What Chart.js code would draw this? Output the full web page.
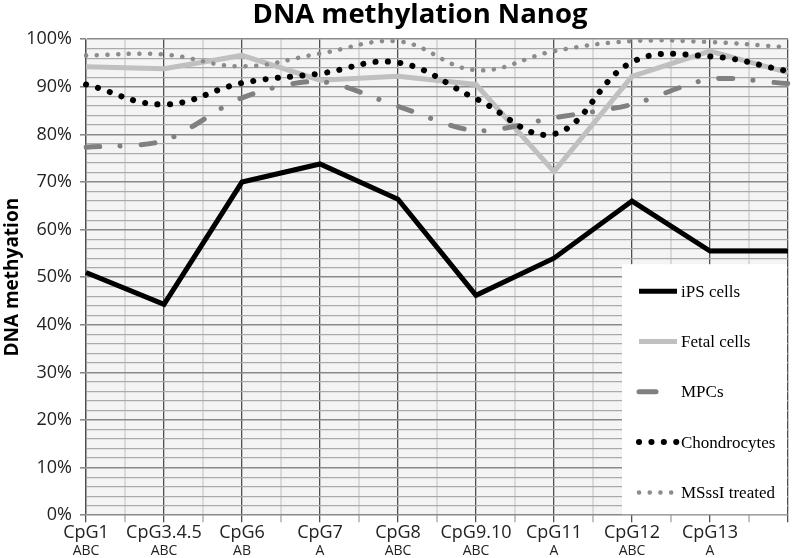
<!DOCTYPE html>
<html>
<head>
<meta charset="utf-8">
<script src="https://cdn.jsdelivr.net/npm/chart.js@4.4.1/dist/chart.umd.min.js"></script>
<style>
  html, body { margin: 0; padding: 0; background: #fff; }
  body { width: 792px; height: 558px; overflow: hidden; }
  #wrap { width: 840px; height: 558px; }
</style>
</head>
<body>
<div id="wrap"><canvas id="chart" width="840" height="558"></canvas></div>
<script>
// CpG sites along the x axis, with the sub label under each
const categories = ['CpG1', 'CpG3.4.5', 'CpG6', 'CpG7', 'CpG8', 'CpG9.10', 'CpG11', 'CpG12', 'CpG13', ''];
const subLabels = ['ABC', 'ABC', 'AB', 'A', 'ABC', 'ABC', 'A', 'ABC', 'A', ''];

// methylation in %
const ipsCells = [51, 44.3, 70, 73.8, 66.4, 46.2, 54, 66, 55.5, 55.5];
const fetalCells = [94.2, 93.8, 96.6, 91.4, 92.2, 90.5, 72.2, 92.2, 97.5, 93];
const mpcs = [77.3, 78.7, 87.7, 91.1, 85.9, 80.8, 83.5, 86.3, 91.6, 90.7];
const chondrocytes = [90.5, 86.3, 90.8, 92.8, 95.1, 87.5, 80.1, 95.2, 96.4, 93.3];
const msssiTreated = [96.6, 96.8, 94.3, 97.0, 99.6, 93.5, 97.5, 99.6, 99.4, 98.3];

const yTicks = [0, 10, 20, 30, 40, 50, 60, 70, 80, 90, 100];

const plotBackground = {
  id: 'plotBackground',
  beforeDraw(chart) {
    const { ctx, chartArea: a } = chart;
    ctx.save();
    ctx.fillStyle = '#f4f4f4';
    ctx.fillRect(a.left, a.top, a.right - a.left, a.bottom - a.top);
    ctx.restore();
  },
};

// boxed legend sitting inside the plot, bottom right, like the original
const boxLegend = {
  id: 'boxLegend',
  afterDraw(chart) {
    const { ctx, chartArea: a } = chart;
    const left = a.right - 166, top = a.bottom - 251;
    ctx.save();
    ctx.fillStyle = '#fff';
    ctx.fillRect(left, top, a.right - 1 - left, a.bottom - 1 - top);
    ctx.font = '17px "Liberation Serif", "Times New Roman", serif';
    ctx.textBaseline = 'middle';
    chart.data.datasets.forEach((ds, i) => {
      const y = top + 27 + i * 50.3;
      // the dash-dot sample only shows its first dash in the original
      const end = ds.label === 'MPCs' ? left + 34 : left + 55;
      ctx.strokeStyle = ds.borderColor;
      ctx.lineWidth = ds.borderWidth;
      ctx.lineCap = ds.borderCapStyle || 'butt';
      ctx.setLineDash(ds.label === 'MPCs' ? [] : (ds.borderDash || []));
      ctx.beginPath();
      ctx.moveTo(left + 17, y);
      ctx.lineTo(end, y);
      ctx.stroke();
      ctx.setLineDash([]);
      ctx.fillStyle = '#000';
      ctx.fillText(ds.label, left + 59, y + 1);
    });
    ctx.restore();
  },
};

new Chart(document.getElementById('chart'), {
  type: 'line',
  data: {
    labels: categories,
    datasets: [
      { label: 'iPS cells', data: ipsCells, borderColor: '#000000', borderWidth: 5, tension: 0, order: 5 },
      { label: 'Fetal cells', data: fetalCells, borderColor: '#c0c0c0', borderWidth: 5, tension: 0, order: 4 },
      { label: 'MPCs', data: mpcs, borderColor: '#808080', borderWidth: 5, borderDash: [14, 20, 0.1, 21],
        borderCapStyle: 'round', tension: 0.3, order: 3 },
      { label: 'Chondrocytes', data: chondrocytes, borderColor: '#000000', borderWidth: 6, borderDash: [0.1, 12.3],
        borderCapStyle: 'round', tension: 0.4, order: 2 },
      { label: 'MSssI treated', data: msssiTreated, borderColor: '#8c8c8c', borderWidth: 4.5, borderDash: [0.1, 10.6],
        borderCapStyle: 'round', tension: 0.4, order: 1 },
    ].map((d) => ({ ...d, xAxisID: 'x', yAxisID: 'y', pointRadius: 0, pointHoverRadius: 0, fill: false })),
  },
  options: {
    responsive: false,
    animation: false,
    layout: { padding: { left: 0, right: 0, top: 0, bottom: 0 } },
    plugins: {
      legend: { display: false },
      tooltip: { enabled: false },
      title: {
        display: true,
        text: 'DNA methylation Nanog',
        color: '#000',
        font: { family: '"Open Sans"', size: 27.5, weight: 'bold', lineHeight: 1.1 },
        padding: { top: 0, bottom: 9 },
      },
    },
    scales: {
      xg: {
        type: 'linear',
        position: 'bottom',
        min: 0,
        max: categories.length - 1,
        ticks: { display: false, stepSize: 0.5 },
        grid: {
          color: (c) => (c.tick && c.tick.value % 1 === 0 ? '#505050' : '#d9d9d9'),
          lineWidth: (c) => (c.tick && c.tick.value % 1 === 0 ? 1.3 : 2),
          tickColor: (c) => (c.tick && c.tick.value % 1 === 0 ? '#505050' : '#c4c4c4'),
          tickLength: 7,
        },
        border: { display: false },
      },
      x: {
        type: 'category',
        position: 'bottom',
        offset: false,
        grid: { display: false, drawTicks: false },
        border: { display: false },
        ticks: {
          color: '#222',
          padding: 1,
          maxRotation: 0,
          autoSkip: false,
          font: { family: '"Open Sans"', size: 18, lineHeight: 1.1 },
        },
      },
      x2: {
        type: 'category',
        position: 'bottom',
        offset: false,
        labels: subLabels,
        grid: { display: false, drawTicks: false },
        border: { display: false },
        ticks: {
          color: '#222',
          padding: 0,
          maxRotation: 0,
          autoSkip: false,
          font: { family: '"Open Sans"', size: 14, lineHeight: 1.0 },
        },
      },
      y: {
        min: 0,
        max: 100,
        afterBuildTicks: (s) => {
          const t = [];
          for (let v = 0; v <= 100; v += 2) t.push({ value: v });
          s.ticks = t;
        },
        afterFit: (s) => { s.width = 86; },
        ticks: {
          autoSkip: false,
          color: '#222',
          padding: 8,
          font: { family: '"Open Sans"', size: 18 },
          callback: (v) => (yTicks.includes(v) ? v + '%' : ''),
        },
        grid: {
          color: (c) => (c.tick && c.tick.value % 10 === 0 ? '#8a8a8a' : '#aaaaaa'),
          lineWidth: (c) => (c.tick && c.tick.value % 10 === 0 ? 1.6 : 1.2),
          tickColor: (c) => (c.tick && c.tick.value % 10 === 0 ? '#8a8a8a' : 'rgba(0,0,0,0)'),
          tickLength: 6,
        },
        border: { color: '#a0a0a0', width: 1 },
        title: {
          display: true,
          text: 'DNA methyation',
          color: '#000',
          font: { family: '"Open Sans"', size: 19, weight: 'bold', lineHeight: 1.0 },
          padding: { top: 3.5, bottom: 0 },
        },
      },
      // empty right-hand axis: keeps the plot ending where the original was cropped
      yr: {
        position: 'right',
        min: 0,
        max: 100,
        ticks: { display: false },
        grid: { display: false, drawTicks: false },
        border: { display: false },
        afterFit: (s) => { s.width = 52; },
      },
    },
  },
  plugins: [plotBackground, boxLegend],
});
</script>
</body>
</html>
